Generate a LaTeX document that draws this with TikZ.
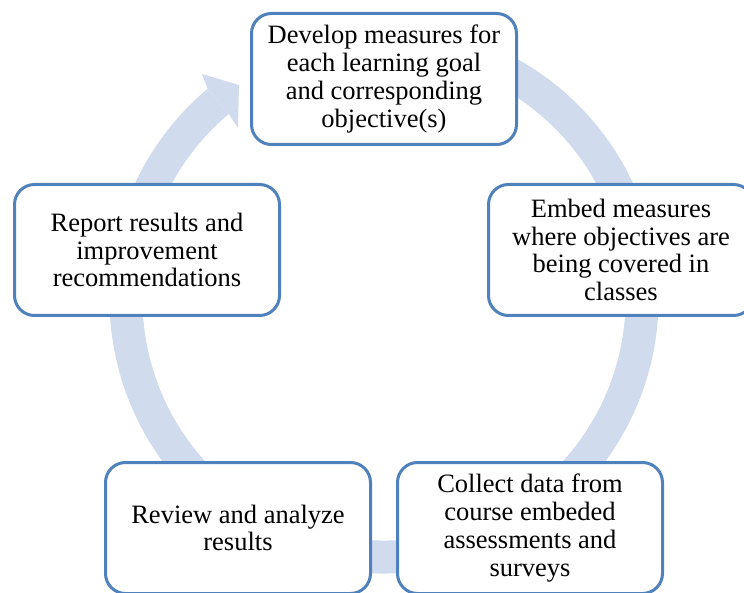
\documentclass[tikz,border=0pt]{standalone}
\usepackage{fontspec}
\setmainfont{Liberation Serif}
\usepackage{tikz}
\usetikzlibrary{shapes,positioning,calc}

\definecolor{stageblue}{RGB}{79,129,189}
\definecolor{ringblue}{RGB}{208,219,238}

\begin{document}
\begin{tikzpicture}[x=1pt,y=1pt,
    stage/.style={draw=stageblue,line width=3pt,fill=white,rounded corners=20pt,
        minimum width=265pt,minimum height=131pt,align=center,
        font=\fontsize{26.5}{27.7}\selectfont},
    ring/.style={ringblue,line width=33pt}]
    \useasboundingbox (0,0) rectangle (744,592);
    \clip (0,0) rectangle (744,592);

    % Cycle ring behind the boxes
    \coordinate (ctr) at (384,293);
    \draw[ring] (ctr) ++(100:258) arc[start angle=100,end angle=-230,radius=258];
    \fill[ringblue] (ctr) ++(130:274.5) -- (202,518) -- (239,507) -- (238,464)
        -- ($(ctr)+(130:241.5)$) -- cycle;

    % Top box
    \node[stage] (develop) at (384,513) {Develop measures for\\
    each learning goal\\
    and corresponding\\
    objective(s)};

    % Right box
    \node[stage] (embed) at (621,342) {Embed measures\\
    where objectives are\\
    being covered in\\
    classes};

    % Bottom right box
    \node[stage] (collect) at (530,64) {Collect data from\\
    course embeded\\
    assessments and\\
    surveys};

    % Bottom left box
    \node[stage] (review) at (238,64) {Review and analyze\\
    results};

    % Left box
    \node[stage] (report) at (147,342) {Report results and\\
    improvement\\
    recommendations};
\end{tikzpicture}
\end{document}
